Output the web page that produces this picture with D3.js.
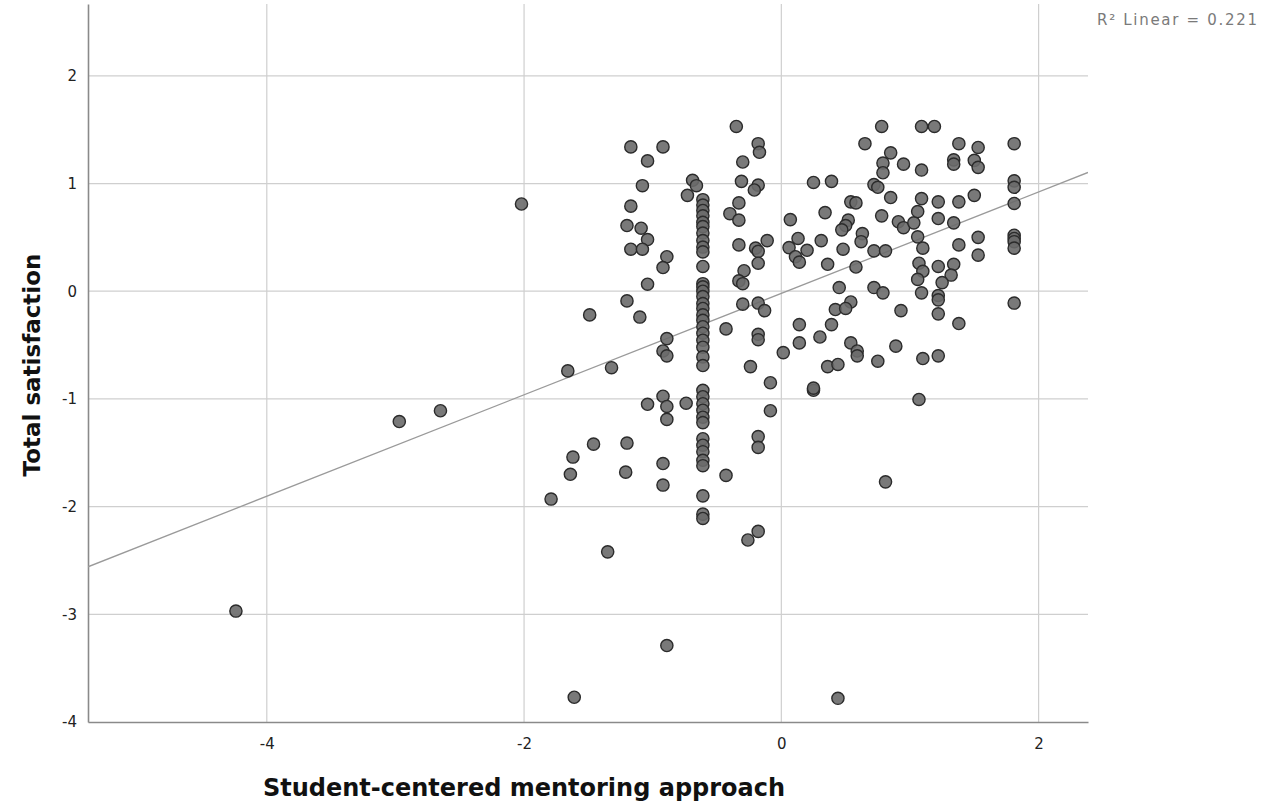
<!DOCTYPE html>
<html>
<head>
<meta charset="utf-8">
<script src="https://cdn.jsdelivr.net/npm/d3@7"></script>
<style>
body { margin: 0; background: #fff; }
.tick text { font-family: "DejaVu Sans", sans-serif; }
</style>
</head>
<body>
<div class="chart"></div>
<script>
// outliers + left side
const xLeft = [-4.24, -2.97, -2.65, -2.02, -1.61, 0.44, -0.89, -1.35, -1.79,
  -1.17, -0.92, -1.04, -0.69, -0.66, -1.08, -0.73, -1.17, -1.20, -1.09, -1.04, -1.17, -1.08, -0.89, -0.92, -1.04, -1.20, -1.49, -1.10, -0.89, -0.92, -0.89, -1.66, -1.32, -0.92, -1.04, -0.89, -0.74,
  -0.89, -1.46, -1.20, -1.62, -1.64, -1.21, -0.92, -0.92]
const yLeft = [-2.97, -1.21, -1.11, 0.81, -3.77, -3.78, -3.29, -2.42, -1.93,
  1.34, 1.34, 1.21, 1.03, 0.98, 0.98, 0.89, 0.79, 0.61, 0.585, 0.48, 0.39, 0.39, 0.32, 0.22, 0.065, -0.09, -0.22, -0.24, -0.44, -0.555, -0.60, -0.74, -0.71, -0.975, -1.05, -1.07, -1.04,
  -1.19, -1.42, -1.41, -1.54, -1.70, -1.68, -1.60, -1.80]

// the stack at x = -0.61
const columnX = -0.61
const columnY = [0.85, 0.80, 0.75, 0.70, 0.64, 0.60, 0.54, 0.47, 0.41, 0.365, 0.23, 0.07, 0.04, 0.00, -0.05, -0.115, -0.16, -0.22, -0.27, -0.33, -0.39, -0.455, -0.52, -0.61, -0.69,
  -0.92, -0.98, -1.045, -1.105, -1.17, -1.22, -1.37, -1.43, -1.49, -1.57, -1.62, -1.90, -2.07, -2.11]

const xMid = [-0.085, -0.18, -0.18, -0.43, -0.18, -0.26, 0.25,
  -0.35, -0.18, -0.17, -0.30, 0.65, -0.31, -0.18, -0.21, 0.25, 0.39, -0.33, -0.40, -0.33, 0.07, 0.34, 0.54, 0.58, 0.52, 0.50, 0.47, 0.63, 0.62,
  -0.33, -0.11, -0.20, -0.18, -0.18, 0.06, 0.13, 0.20, 0.11, 0.14, 0.31, 0.36, 0.48, 0.58, -0.29, -0.33, -0.30, 0.45,
  -0.30, -0.18, -0.13, 0.54, 0.42, 0.50, -0.43, -0.18, -0.18, 0.14, 0.14, 0.39, 0.30, 0.015, 0.54, 0.59, 0.59, -0.24, 0.36, 0.44, -0.085, 0.25]
const yMid = [-1.11, -1.35, -1.45, -1.71, -2.23, -2.31, -0.92,
  1.53, 1.37, 1.29, 1.20, 1.37, 1.02, 0.985, 0.94, 1.01, 1.02, 0.82, 0.72, 0.66, 0.665, 0.73, 0.83, 0.82, 0.66, 0.61, 0.57, 0.535, 0.46,
  0.43, 0.47, 0.40, 0.37, 0.26, 0.405, 0.49, 0.38, 0.32, 0.27, 0.47, 0.25, 0.39, 0.225, 0.19, 0.096, 0.07, 0.034,
  -0.12, -0.11, -0.18, -0.10, -0.17, -0.16, -0.35, -0.40, -0.45, -0.31, -0.48, -0.31, -0.425, -0.57, -0.48, -0.555, -0.60, -0.70, -0.70, -0.68, -0.85, -0.90]

const xRight = [0.78, 1.09, 1.19, 1.38, 1.81, 1.53, 0.85, 0.79, 0.79, 0.95, 1.09, 1.34, 1.34, 1.50, 1.53, 1.81, 1.81, 0.72, 0.75, 0.85, 1.09, 1.22, 1.38, 1.50, 1.81,
  0.78, 0.91, 0.95, 1.03, 1.06, 1.22, 1.34, 1.06, 1.10, 1.38, 1.53, 1.53, 1.81, 1.81, 1.81, 1.81, 0.72, 0.81, 1.07, 1.10, 1.06, 1.22, 1.34, 1.32, 1.25,
  0.72, 0.79, 1.09, 1.22, 1.22, 0.93, 1.22, 1.38, 1.81, 0.89, 0.75, 1.10, 1.22, 1.07, 0.81]
const yRight = [1.53, 1.53, 1.53, 1.37, 1.37, 1.335, 1.285, 1.19, 1.10, 1.18, 1.125, 1.22, 1.18, 1.215, 1.15, 1.025, 0.965, 0.99, 0.965, 0.87, 0.86, 0.83, 0.83, 0.89, 0.815,
  0.70, 0.645, 0.59, 0.635, 0.74, 0.675, 0.635, 0.505, 0.40, 0.43, 0.50, 0.335, 0.52, 0.49, 0.46, 0.40, 0.375, 0.375, 0.26, 0.185, 0.11, 0.23, 0.25, 0.15, 0.08,
  0.034, -0.015, -0.015, -0.04, -0.08, -0.18, -0.21, -0.30, -0.11, -0.51, -0.65, -0.625, -0.60, -1.005, -1.77]

const xTicks = [-4, -2, 0, 2]
const yTicks = [-4, -3, -2, -1, 0, 1, 2]
const fit = { intercept: -0.02, slope: 0.471, r2: 0.221 }

const points = []
xLeft.forEach((d, i) => points.push({ x: d, y: yLeft[i] }))
columnY.forEach(d => points.push({ x: columnX, y: d }))
xMid.forEach((d, i) => points.push({ x: d, y: yMid[i] }))
xRight.forEach((d, i) => points.push({ x: d, y: yRight[i] }))

const W = 1261, H = 806
const margin = { top: 4, left: 88 }
const width = 1000, height = 718

const svg = d3.select('.chart').append('svg')
  .attr('width', W)
  .attr('height', H)
  .style('background', '#fff')

const g = svg.append('g')
  .attr('transform', `translate(${ margin.left },${ margin.top })`)

const x = d3.scaleLinear().domain([-5.39, 2.384]).range([0, width])
const y = d3.scaleLinear().domain([-4, 2.667]).range([height, 0])

// grid
g.append('g')
  .selectAll('line')
  .data(yTicks.filter(d => d > -4))
  .enter()
  .append('line')
  .attr('x1', 0).attr('x2', width)
  .attr('y1', d => y(d)).attr('y2', d => y(d))
  .attr('stroke', '#cfcfcf')
  .attr('stroke-width', 1.2)

g.append('g')
  .selectAll('line')
  .data(xTicks)
  .enter()
  .append('line')
  .attr('x1', d => x(d)).attr('x2', d => x(d))
  .attr('y1', 0).attr('y2', height)
  .attr('stroke', '#cfcfcf')
  .attr('stroke-width', 1.2)

const xAxis = d3.axisBottom(x).tickValues(xTicks).tickSize(0).tickPadding(16).tickFormat(d => String(d))
const yAxis = d3.axisLeft(y).tickValues(yTicks).tickSize(0).tickPadding(11).tickFormat(d => String(d))

const gx = g.append('g')
  .attr('transform', `translate(0,${ height })`)
  .call(xAxis)
gx.select('.domain').attr('stroke', '#8a8a8a').attr('stroke-width', 1.6)

const gy = g.append('g').call(yAxis)
gy.select('.domain').attr('stroke', '#8a8a8a').attr('stroke-width', 1.6)

svg.selectAll('.tick text')
  .attr('font-size', '15px')
  .attr('fill', '#222')

// fit line
const clip = g.append('clipPath').attr('id', 'plotClip')
clip.append('rect').attr('width', width).attr('height', height)

const lineGen = d3.line()
  .x(d => x(d))
  .y(d => y(fit.intercept + fit.slope * d))

g.append('path')
  .attr('clip-path', 'url(#plotClip)')
  .attr('d', lineGen(x.domain()))
  .attr('fill', 'none')
  .attr('stroke', '#9a9a9a')
  .attr('stroke-width', 1.3)

g.selectAll('.dot')
  .data(points)
  .enter()
  .append('circle')
  .attr('class', 'dot')
  .attr('cx', d => x(d.x))
  .attr('cy', d => y(d.y))
  .attr('r', 6.1)
  .attr('fill', '#6a6a6a')
  .attr('fill-opacity', 0.9)
  .attr('stroke', '#2b2b2b')
  .attr('stroke-width', 1.4)

svg.append('text')
  .attr('x', 1097)
  .attr('y', 25)
  .attr('font-family', 'DejaVu Sans, sans-serif')
  .attr('font-size', '15px')
  .attr('textLength', 160)
  .attr('fill', '#7a7a7a')
  .text(`R\u00B2 Linear = ${ fit.r2 }`)

svg.append('text')
  .attr('x', 524)
  .attr('y', 796)
  .attr('text-anchor', 'middle')
  .attr('font-family', 'DejaVu Sans, sans-serif')
  .attr('font-weight', 'bold')
  .attr('font-size', '24px')
  .attr('fill', '#111')
  .text('Student-centered mentoring approach')

svg.append('text')
  .attr('transform', 'translate(40,365) rotate(-90)')
  .attr('text-anchor', 'middle')
  .attr('font-family', 'DejaVu Sans, sans-serif')
  .attr('font-weight', 'bold')
  .attr('font-size', '23px')
  .attr('fill', '#111')
  .text('Total satisfaction')
</script>
</body>
</html>
